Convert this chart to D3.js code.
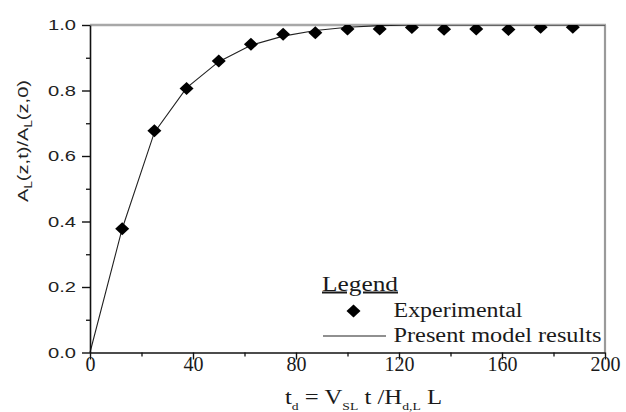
<!DOCTYPE html>
<html>
<head>
<meta charset="utf-8">
<script src="https://cdn.jsdelivr.net/npm/d3@7"></script>
<style>
  html, body { margin: 0; padding: 0; background: #fff; }
  svg { display: block; }
</style>
</head>
<body>
<svg id="chart" width="626" height="412"></svg>
<script>
// ---- data ----
const expT = [12.5, 25, 37.5, 50, 62.5, 75, 87.5, 100, 112.5, 125, 137.5, 150, 162.5, 175, 187.5];
const expVal = [0.378, 0.677, 0.806, 0.89, 0.941, 0.972, 0.976, 0.988, 0.988, 0.992, 0.987, 0.988, 0.986, 0.993, 0.993];
const modelT = [0, 12.5, 25, 37.5, 50, 62.5, 75, 87.5, 100, 112.5, 125, 150, 175, 200];
const modelVal = [0, 0.378, 0.672, 0.808, 0.888, 0.938, 0.966, 0.983, 0.993, 0.998, 1.0, 1.0, 1.0, 1.0];
const xTicks = [0, 40, 80, 120, 160, 200];
const xMinor = [20, 60, 100, 140, 180];
const yTicks = [0, 0.2, 0.4, 0.6, 0.8, 1.0];
const yMinor = [0.1, 0.3, 0.5, 0.7, 0.9];
const legendLabels = ["Experimental", "Present model results"];

const svg = d3.select("#chart");
const x = d3.scaleLinear().domain([0, 200]).range([90, 605]);
const y = d3.scaleLinear().domain([0, 1]).range([352.5, 25]);

// clip
svg.append("clipPath").attr("id", "plotclip").append("rect")
  .attr("x", x(0) - 2).attr("y", y(1)).attr("width", x(200) - x(0) + 4).attr("height", y(0) - y(1) + 2);

// top and right frame (gray)
svg.append("line").attr("x1", x(0)).attr("x2", x(200) + 1).attr("y1", y(1)).attr("y2", y(1))
  .attr("stroke", "#a8a8a8").attr("stroke-width", 2.6);
svg.append("line").attr("x1", x(200)).attr("x2", x(200)).attr("y1", y(1)).attr("y2", y(0))
  .attr("stroke", "#9a9a9a").attr("stroke-width", 2.2);

// model line
const line = d3.line().x((d, i) => x(modelT[i])).y(d => y(d));
svg.append("path").datum(modelVal).attr("d", line)
  .attr("fill", "none").attr("stroke", "#222").attr("stroke-width", 1.1)
  .attr("clip-path", "url(#plotclip)");

// markers
const diamond = "M0,-6.5L7,0L0,6.5L-7,0Z";
svg.append("g").attr("clip-path", "url(#plotclip)")
  .selectAll("path").data(expVal).join("path")
  .attr("d", diamond)
  .attr("transform", (d, i) => `translate(${x(expT[i])},${y(d)})`)
  .attr("fill", "#000");

// x axis
const xAxis = svg.append("g").attr("transform", `translate(0,${y(0)})`)
  .call(d3.axisBottom(x).tickValues(xTicks).tickSize(7).tickSizeOuter(0).tickFormat(d3.format("d")));
xAxis.select(".domain").attr("stroke", "#111").attr("stroke-width", 1.6);
xAxis.selectAll(".tick line").attr("stroke", "#111").attr("stroke-width", 1.4);
xAxis.selectAll(".tick text").attr("font-family", "'Liberation Serif', 'Times New Roman', serif")
  .attr("font-size", 20).attr("fill", "#1a1a1a").attr("dy", "0.2em").attr("y", 14);
svg.append("g").attr("transform", `translate(0,${y(0)})`)
  .call(d3.axisBottom(x).tickValues(xMinor).tickSize(4).tickSizeOuter(0).tickFormat(""))
  .call(g => g.select(".domain").remove())
  .selectAll(".tick line").attr("stroke", "#111").attr("stroke-width", 1.3);

// y axis
const yAxis = svg.append("g").attr("transform", `translate(${x(0)},0)`)
  .call(d3.axisLeft(y).tickValues(yTicks).tickSize(8).tickSizeOuter(0).tickFormat(d3.format(".1f")));
yAxis.select(".domain").attr("stroke", "#111").attr("stroke-width", 1.6);
yAxis.selectAll(".tick line").attr("stroke", "#111").attr("stroke-width", 1.4);
yAxis.selectAll(".tick text").attr("font-family", "'Liberation Sans', Arial, sans-serif")
  .attr("font-size", 14.5).attr("fill", "#222").attr("x", -14)
  .attr("textLength", 28).attr("lengthAdjust", "spacingAndGlyphs");
svg.append("g").attr("transform", `translate(${x(0)},0)`)
  .call(d3.axisLeft(y).tickValues(yMinor).tickSize(4).tickSizeOuter(0).tickFormat(""))
  .call(g => g.select(".domain").remove())
  .selectAll(".tick line").attr("stroke", "#111").attr("stroke-width", 1.3);

// y title
const yt = svg.append("text")
  .attr("transform", "translate(28,141) rotate(-90)")
  .attr("text-anchor", "middle")
  .attr("font-family", "'Liberation Sans', Arial, sans-serif")
  .attr("font-size", 15).attr("fill", "#222")
  .attr("textLength", 122).attr("lengthAdjust", "spacingAndGlyphs");
yt.append("tspan").text("A");
yt.append("tspan").attr("font-size", 10).attr("dy", 4).text("L");
yt.append("tspan").attr("dy", -4).text("(z,t)/A");
yt.append("tspan").attr("font-size", 10).attr("dy", 4).text("L");
yt.append("tspan").attr("dy", -4).text("(z,0)");

// x title
const serif = "'Liberation Serif', 'Times New Roman', serif";
const xt = svg.append("text").attr("x", 285).attr("y", 404)
  .attr("font-family", serif).attr("font-size", 20).attr("fill", "#1a1a1a")
  .attr("textLength", 157).attr("lengthAdjust", "spacingAndGlyphs");
xt.append("tspan").text("t");
xt.append("tspan").attr("font-size", 11).attr("dy", 6).text("d");
xt.append("tspan").attr("dy", -6).text(" = V");
xt.append("tspan").attr("font-size", 11).attr("dy", 6).text("SL");
xt.append("tspan").attr("dy", -6).text(" t /H");
xt.append("tspan").attr("font-size", 11).attr("dy", 6).text("d,L");
xt.append("tspan").attr("dy", -6).text(" L");

// legend
svg.append("text").attr("x", 322).attr("y", 290.5)
  .attr("font-family", serif).attr("font-size", 20).attr("fill", "#1a1a1a")
  .attr("text-decoration", "underline")
  .attr("textLength", 76).attr("lengthAdjust", "spacingAndGlyphs")
  .text("Legend");
svg.append("path").attr("d", diamond).attr("transform", "translate(353.5,311)").attr("fill", "#000");
svg.append("text").attr("x", 393.5).attr("y", 317)
  .attr("font-family", serif).attr("font-size", 20).attr("fill", "#1a1a1a")
  .attr("textLength", 129).attr("lengthAdjust", "spacingAndGlyphs")
  .text(legendLabels[0]);
svg.append("line").attr("x1", 323).attr("x2", 386).attr("y1", 336).attr("y2", 336)
  .attr("stroke", "#222").attr("stroke-width", 1.1);
svg.append("text").attr("x", 393.5).attr("y", 342)
  .attr("font-family", serif).attr("font-size", 20).attr("fill", "#1a1a1a")
  .attr("textLength", 208).attr("lengthAdjust", "spacingAndGlyphs")
  .text(legendLabels[1]);
</script>
</body>
</html>
